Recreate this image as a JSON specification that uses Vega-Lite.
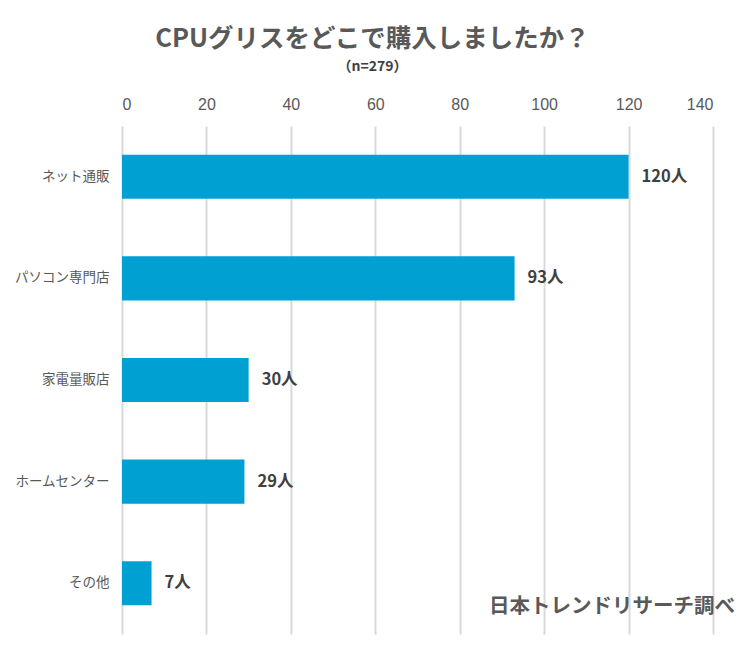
{
  "$schema": "https://vega.github.io/schema/vega-lite/v6.json",
  "width": 591,
  "height": 508,
  "autosize": "none",
  "padding": {"left": 122, "top": 126, "right": 37, "bottom": 23},
  "background": "white",
  "config": {
    "view": {"stroke": null},
    "font": "Noto Sans CJK JP"
  },
  "title": {
    "text": "CPUグリスをどこで購入しましたか？",
    "subtitle": "（n=279）",
    "anchor": "middle",
    "dx": -45,
    "offset": 22,
    "fontSize": 25.5,
    "fontWeight": "bold",
    "color": "#595959",
    "subtitleFontSize": 14,
    "subtitleFontWeight": "bold",
    "subtitleColor": "#404040",
    "subtitlePadding": 8,
    "font": "Noto Sans CJK JP",
    "subtitleFont": "Noto Sans CJK JP"
  },
  "data": {
    "values": [
      {"place": "ネット通販", "count": 120, "label": "120人"},
      {"place": "パソコン専門店", "count": 93, "label": "93人"},
      {"place": "家電量販店", "count": 30, "label": "30人"},
      {"place": "ホームセンター", "count": 29, "label": "29人"},
      {"place": "その他", "count": 7, "label": "7人"}
    ]
  },
  "layer": [
    {
      "mark": {"type": "bar", "color": "#01A0D2"},
      "encoding": {
        "y": {
          "field": "place",
          "type": "nominal",
          "sort": null,
          "title": null,
          "scale": {"paddingInner": 0.566, "paddingOuter": 0.283},
          "axis": {
            "domain": false,
            "ticks": false,
            "labelFontSize": 13.5,
            "labelColor": "#595959",
            "labelPadding": 13,
            "labelFont": "Noto Sans CJK JP"
          }
        },
        "x": {
          "field": "count",
          "type": "quantitative",
          "title": null,
          "scale": {"domain": [0, 140], "nice": false},
          "axis": {
            "orient": "top",
            "values": [0, 20, 40, 60, 80, 100, 120, 140],
            "domain": false,
            "ticks": false,
            "grid": true,
            "gridColor": "#D9D9D9",
            "gridWidth": 2,
            "labelFontSize": 16,
            "labelColor": "#595959",
            "labelPadding": 14,
            "labelFont": "Liberation Sans"
          }
        }
      }
    },
    {
      "mark": {"type": "text", "align": "left", "baseline": "middle", "dx": 13, "fontSize": 16.5, "fontWeight": "bold", "color": "#404040"},
      "encoding": {
        "y": {"field": "place", "type": "nominal", "sort": null},
        "x": {"field": "count", "type": "quantitative"},
        "text": {"field": "label"}
      }
    },
    {
      "data": {"values": [{"place": "その他", "count": 140, "note": "日本トレンドリサーチ調べ"}]},
      "mark": {"type": "text", "align": "right", "baseline": "middle", "dx": 22, "dy": 24, "fontSize": 20.5, "fontWeight": "bold", "color": "#595959"},
      "encoding": {
        "y": {"field": "place", "type": "nominal", "sort": null},
        "x": {"field": "count", "type": "quantitative"},
        "text": {"field": "note"}
      }
    }
  ]
}
